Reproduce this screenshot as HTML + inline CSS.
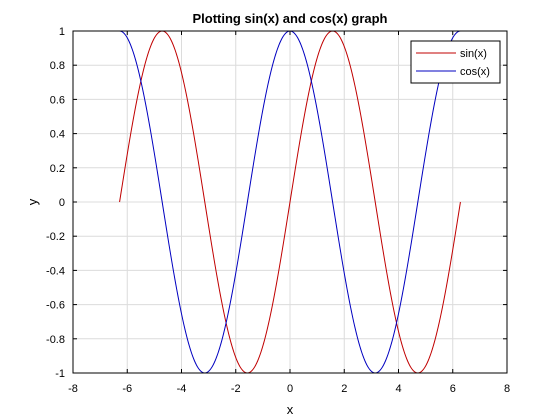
<!DOCTYPE html>
<html><head><meta charset="utf-8"><style>
body{margin:0;background:#fff}
svg{display:block;font-family:"Liberation Sans",sans-serif}
</style></head><body>
<svg id="chart" width="560" height="420">
<rect width="560" height="420" fill="#fff"/>
<g id="grid"></g>
<g id="series"></g>
<rect x="73" y="31" width="434" height="342" fill="none" stroke="#000" stroke-width="1"/>
<g id="ticks"></g>
<text x="290" y="23" text-anchor="middle" font-size="13" font-weight="bold">Plotting sin(x) and cos(x) graph</text>
<text x="290" y="414" text-anchor="middle" font-size="13">x</text>
<text x="37" y="202" text-anchor="middle" font-size="13" transform="rotate(-90 37 202)">y</text>
<g>
<rect x="411" y="41" width="89" height="42" fill="#fff" stroke="#000" stroke-width="1"/>
<line x1="416" y1="53" x2="456" y2="53" stroke="#c00000"/>
<text x="460" y="57" font-size="11">sin(x)</text>
<line x1="416" y1="71" x2="456" y2="71" stroke="#0000c0"/>
<text x="460" y="75" font-size="11">cos(x)</text>
</g>
</svg>
<script>
const xTicks=[-8,-6,-4,-2,0,2,4,6,8];
const yTicks=[-1,-0.8,-0.6,-0.4,-0.2,0,0.2,0.4,0.6,0.8,1];
const xMin=-2*Math.PI, xMax=2*Math.PI, nPts=400;
const xs=[];for(let i=0;i<=nPts;i++)xs.push(xMin+(xMax-xMin)*i/nPts);
const sinVals=xs.map(Math.sin);
const cosVals=xs.map(Math.cos);
const L=73,R=507,T=31,B=373;
const sx=v=>L+(v+8)/16*(R-L);
const sy=v=>B-(v+1)/2*(B-T);
const NS="http://www.w3.org/2000/svg";
const grid=document.getElementById('grid'),ticks=document.getElementById('ticks'),ser=document.getElementById('series');
function mk(t,a,p){const e=document.createElementNS(NS,t);for(const k in a)e.setAttribute(k,a[k]);p.appendChild(e);return e;}
xTicks.forEach(v=>{const x=sx(v);
 const g=mk('line',{x1:x,x2:x,y1:T,y2:B,stroke:'#dcdcdc'},grid);
 
 
 mk('line',{x1:x,x2:x,y1:B,y2:B-4,stroke:'#000'},ticks);
 mk('line',{x1:x,x2:x,y1:T,y2:T+4,stroke:'#000'},ticks);
 const t=mk('text',{x:x,y:B+19,'text-anchor':'middle','font-size':'11'},ticks);t.textContent=v;
 
 });
yTicks.forEach(v=>{const y=sy(v);
 const g=mk('line',{x1:L,x2:R,y1:y,y2:y,stroke:'#dcdcdc'},grid);
 
 
 mk('line',{x1:L,x2:L+4,y1:y,y2:y,stroke:'#000'},ticks);
 mk('line',{x1:R,x2:R-4,y1:y,y2:y,stroke:'#000'},ticks);
 const t=mk('text',{x:L-8,y:y+4,'text-anchor':'end','font-size':'11'},ticks);t.textContent=Math.round(v*10)/10;
 
 });
function line(vals,col,name){const d=xs.map((x,i)=>(i?'L':'M')+sx(x).toFixed(2)+','+sy(vals[i]).toFixed(2)).join('');
 const p=mk('path',{d:d,fill:'none',stroke:col,'stroke-width':1},ser);
 
 }
line(sinVals,'#c00000','sin-line');
line(cosVals,'#0000c0','cos-line');
</script>
</body></html>
